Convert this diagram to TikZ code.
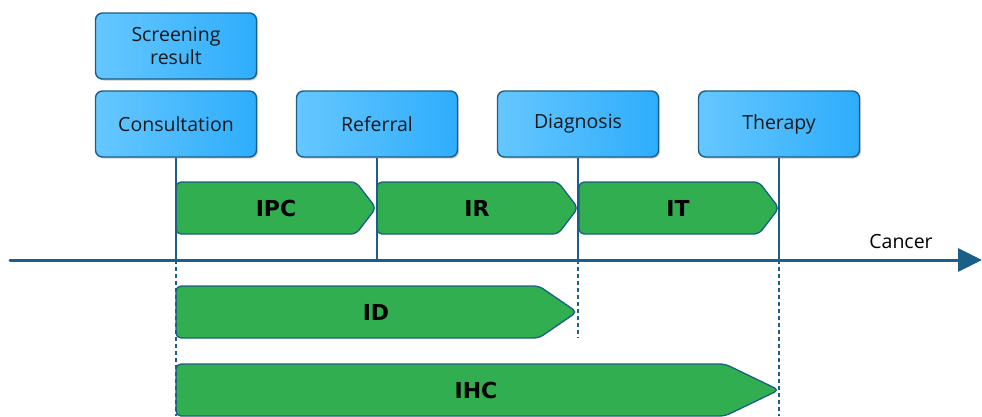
\documentclass[tikz,border=0pt]{standalone}
\usepackage{fontspec}
\setmainfont{Open Sans}
\newfontfamily\lblfont{DejaVu Sans}
\usetikzlibrary{arrows.meta,shadows}
\definecolor{edge}{HTML}{1B5E86}
\definecolor{boxl}{HTML}{66C7FF}
\definecolor{boxr}{HTML}{2EADFC}
\definecolor{grn}{HTML}{31AE4F}
\newcommand\chevron[6]{% x1,x2,ytop,ybot,tipwidth,name
  \draw[chev] (#1,#3) -- (#2-#5,#3) -- (#2,{(#3+#4)/2}) -- (#2-#5,#4) -- (#1,#4) -- cycle;
}
\tikzset{
  stage/.style={draw=edge, line width=1.4pt, rounded corners=7pt,
    left color=boxl, right color=boxr, minimum width=161pt, minimum height=66pt,
    inner sep=2pt, align=center, text=black!90, font=\fontsize{19.5}{23}\selectfont,
    drop shadow={shadow xshift=1.5pt, shadow yshift=-1.5pt, fill=black!40, opacity=.5}},
  chev/.style={draw=edge, line width=1.3pt, fill=grn, rounded corners=5pt},
  lbl/.style={font=\lblfont\bfseries\fontsize{22}{25}\selectfont},
  vline/.style={draw=edge, line width=2.2pt},
  vdash/.style={draw=edge, line width=2.2pt, dash pattern=on 4pt off 3pt},
  axis/.style={draw=edge, line width=3pt, line cap=round, -{Triangle[length=24pt,width=23pt]}},
}
\begin{document}
\begin{tikzpicture}[x=1pt,y=-1pt]
\useasboundingbox (0,0) rectangle (982,416);
% boxes
\node[stage] (scr) at (176,46) {Screening\\result};
\node[stage] (con) at (176,124) {Consultation};
\node[stage] (ref) at (377,124) {Referral};
\node[stage] (dia) at (578,124) {Diagnosis};
\node[stage] (ther) at (779,124) {Therapy};
% chevrons
\chevron{176}{376}{182}{234}{20}{ipc}
\chevron{377}{578}{182}{234}{20}{ir}
\chevron{579}{779}{182}{234}{20}{it}
\chevron{176}{577}{286}{338}{38}{id}
\chevron{176}{779}{364}{416}{54}{ihc}
\node[lbl] (lipc) at (276,208) {IPC};
\node[lbl] (lir) at (477,208) {IR};
\node[lbl] (lit) at (678,208) {IT};
\node[lbl] (lid) at (376,312) {ID};
\node[lbl] (lihc) at (476,390) {IHC};
% axis
\coordinate (axs) at (10,260);
\coordinate (axe) at (982,260);
\coordinate (bot) at (0,416);
\coordinate (idb) at (0,338);
\draw[axis] (axs) -- (axe);
\node[font=\fontsize{19.5}{23}\selectfont] (cancer) at (901,242) {Cancer};
% vertical lines
\draw[vline] (con.south) -- (con.south |- axs);
\draw[vline] (ref.south) -- (ref.south |- axs);
\draw[vline] (dia.south) -- (dia.south |- axs);
\draw[vline] (ther.south) -- (ther.south |- axs);
\draw[vdash] (con.south |- axs) -- (con.south |- bot);
\draw[vdash] (dia.south |- axs) -- (dia.south |- idb);
\draw[vdash] (ther.south |- axs) -- (ther.south |- bot);
\end{tikzpicture}
\end{document}
